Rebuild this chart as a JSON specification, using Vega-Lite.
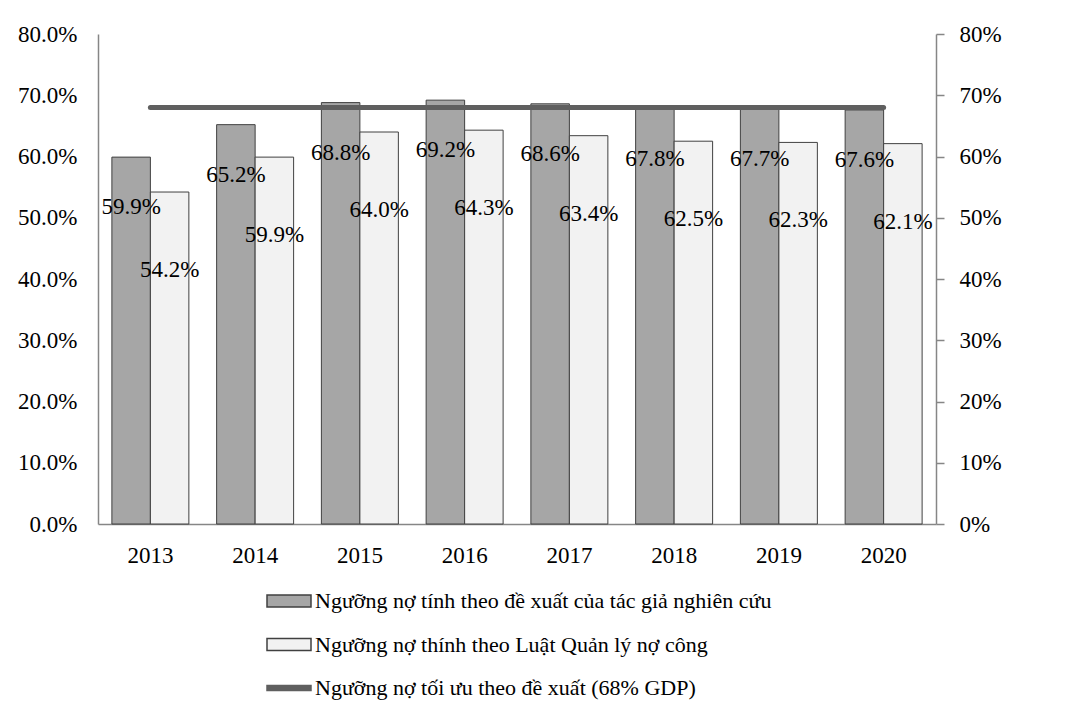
{
  "$schema": "https://vega.github.io/schema/vega-lite/v6.json",
  "autosize": {"type": "none"},
  "width": 838,
  "height": 490,
  "padding": {"left": 98, "top": 34, "right": 142, "bottom": 202},
  "background": "white",
  "config": {
    "view": {"stroke": null},
    "font": "Liberation Serif",
    "axis": {"labelFont": "Liberation Serif", "labelFontSize": 23, "labelColor": "#000000", "domainColor": "#868686", "tickColor": "#868686", "grid": false, "title": null}
  },
  "datasets": {
    "bars": [
      {"year": "2013", "series": "Ngưỡng nợ tính theo đề xuất của tác giả nghiên cứu", "value": 0.599},
      {"year": "2014", "series": "Ngưỡng nợ tính theo đề xuất của tác giả nghiên cứu", "value": 0.652},
      {"year": "2015", "series": "Ngưỡng nợ tính theo đề xuất của tác giả nghiên cứu", "value": 0.688},
      {"year": "2016", "series": "Ngưỡng nợ tính theo đề xuất của tác giả nghiên cứu", "value": 0.692},
      {"year": "2017", "series": "Ngưỡng nợ tính theo đề xuất của tác giả nghiên cứu", "value": 0.686},
      {"year": "2018", "series": "Ngưỡng nợ tính theo đề xuất của tác giả nghiên cứu", "value": 0.678},
      {"year": "2019", "series": "Ngưỡng nợ tính theo đề xuất của tác giả nghiên cứu", "value": 0.677},
      {"year": "2020", "series": "Ngưỡng nợ tính theo đề xuất của tác giả nghiên cứu", "value": 0.676},
      {"year": "2013", "series": "Ngưỡng nợ thính theo Luật Quản lý nợ công", "value": 0.542},
      {"year": "2014", "series": "Ngưỡng nợ thính theo Luật Quản lý nợ công", "value": 0.599},
      {"year": "2015", "series": "Ngưỡng nợ thính theo Luật Quản lý nợ công", "value": 0.640},
      {"year": "2016", "series": "Ngưỡng nợ thính theo Luật Quản lý nợ công", "value": 0.643},
      {"year": "2017", "series": "Ngưỡng nợ thính theo Luật Quản lý nợ công", "value": 0.634},
      {"year": "2018", "series": "Ngưỡng nợ thính theo Luật Quản lý nợ công", "value": 0.625},
      {"year": "2019", "series": "Ngưỡng nợ thính theo Luật Quản lý nợ công", "value": 0.623},
      {"year": "2020", "series": "Ngưỡng nợ thính theo Luật Quản lý nợ công", "value": 0.621}
    ],
    "line": [
      {"year": "2013", "series": "Ngưỡng nợ tối ưu theo đề xuất (68% GDP)", "value": 0.68},
      {"year": "2014", "series": "Ngưỡng nợ tối ưu theo đề xuất (68% GDP)", "value": 0.68},
      {"year": "2015", "series": "Ngưỡng nợ tối ưu theo đề xuất (68% GDP)", "value": 0.68},
      {"year": "2016", "series": "Ngưỡng nợ tối ưu theo đề xuất (68% GDP)", "value": 0.68},
      {"year": "2017", "series": "Ngưỡng nợ tối ưu theo đề xuất (68% GDP)", "value": 0.68},
      {"year": "2018", "series": "Ngưỡng nợ tối ưu theo đề xuất (68% GDP)", "value": 0.68},
      {"year": "2019", "series": "Ngưỡng nợ tối ưu theo đề xuất (68% GDP)", "value": 0.68},
      {"year": "2020", "series": "Ngưỡng nợ tối ưu theo đề xuất (68% GDP)", "value": 0.68}
    ]
  },
  "encoding": {
    "x": {
      "field": "year", "type": "nominal",
      "scale": {"paddingInner": 0.265, "paddingOuter": 0.1325},
      "axis": {"labelAngle": 0, "labelFont": "Liberation Serif", "labelFontSize": 23, "ticks": false, "tickSize": 0, "labelPadding": 20, "domainWidth": 1.5}
    }
  },
  "layer": [
    {
      "data": {"name": "bars"},
      "encoding": {
        "xOffset": {"field": "series", "type": "nominal", "sort": ["Ngưỡng nợ tính theo đề xuất của tác giả nghiên cứu", "Ngưỡng nợ thính theo Luật Quản lý nợ công"], "scale": {"paddingInner": 0, "paddingOuter": 0}},
        "y": {
          "field": "value", "type": "quantitative",
          "scale": {"domain": [0, 0.8], "nice": false},
          "axis": {"orient": "left", "format": ".1%", "labelFont": "Liberation Serif", "labelFontSize": 23, "values": [0, 0.1, 0.2, 0.3, 0.4, 0.5, 0.6, 0.7, 0.8], "ticks": false, "tickSize": 0, "labelPadding": 21, "domainWidth": 1.5}
        }
      },
      "layer": [
        {
          "mark": {"type": "bar", "stroke": "#404040", "strokeWidth": 1},
          "encoding": {
            "fill": {
              "field": "series", "type": "nominal",
              "scale": {
                "domain": ["Ngưỡng nợ tính theo đề xuất của tác giả nghiên cứu", "Ngưỡng nợ thính theo Luật Quản lý nợ công", "Ngưỡng nợ tối ưu theo đề xuất (68% GDP)"],
                "range": ["#a6a6a6", "#f2f2f2", "#5f5f5f"]
              },
              "legend": {
                "title": null,
                "orient": "none",
                "legendX": 180,
                "legendY": 556,
                "direction": "vertical",
                "labelFont": "Liberation Serif",
                "labelFontSize": 22,
                "labelColor": "#000000",
                "labelOffset": 15,
                "labelLimit": 800,
                "symbolType": "M-2.2,-0.6H2.2V0.6H-2.2Z",
                "symbolSize": 400,
                "symbolStrokeWidth": 1.5,
                "symbolStrokeColor": "#404040",
                "symbolOpacity": 1,
                "rowPadding": 21.5,
                "encode": {
                  "symbols": {
                    "update": {
                      "shape": {"signal": "datum.value === 'Ngưỡng nợ tối ưu theo đề xuất (68% GDP)' ? 'M-2.2,-0.25H2.2V0.25H-2.2Z' : 'M-2.2,-0.6H2.2V0.6H-2.2Z'"},
                      "stroke": {"signal": "datum.value === 'Ngưỡng nợ tối ưu theo đề xuất (68% GDP)' ? '#5f5f5f' : '#404040'"},
                      "strokeWidth": {"value": 1.5},
                      "opacity": {"value": 1}
                    }
                  }
                }
              }
            }
          }
        },
        {
          "transform": [{"filter": "datum.series === 'Ngưỡng nợ tính theo đề xuất của tác giả nghiên cứu'"}],
          "mark": {"type": "text", "font": "Liberation Serif", "fontSize": 23, "color": "#000000", "baseline": "middle", "dy": 50},
          "encoding": {"text": {"field": "value", "type": "quantitative", "format": ".1%"}}
        },
        {
          "transform": [{"filter": "datum.series === 'Ngưỡng nợ thính theo Luật Quản lý nợ công'"}],
          "mark": {"type": "text", "font": "Liberation Serif", "fontSize": 23, "color": "#000000", "baseline": "middle", "dy": 78},
          "encoding": {"text": {"field": "value", "type": "quantitative", "format": ".1%"}}
        }
      ]
    },
    {
      "data": {"name": "line"},
      "mark": {"type": "line", "strokeWidth": 5, "strokeCap": "round", "stroke": "#5f5f5f"},
      "encoding": {
        "y": {
          "field": "value", "type": "quantitative",
          "scale": {"domain": [0, 0.8], "nice": false},
          "axis": {"orient": "right", "format": ".0%", "labelFont": "Liberation Serif", "labelFontSize": 23, "values": [0, 0.1, 0.2, 0.3, 0.4, 0.5, 0.6, 0.7, 0.8], "ticks": true, "tickSize": 8, "tickWidth": 1.5, "labelPadding": 15, "domainWidth": 1.5}
        }
      }
    }
  ],
  "resolve": {"scale": {"y": "independent"}, "axis": {"y": "independent"}}
}
